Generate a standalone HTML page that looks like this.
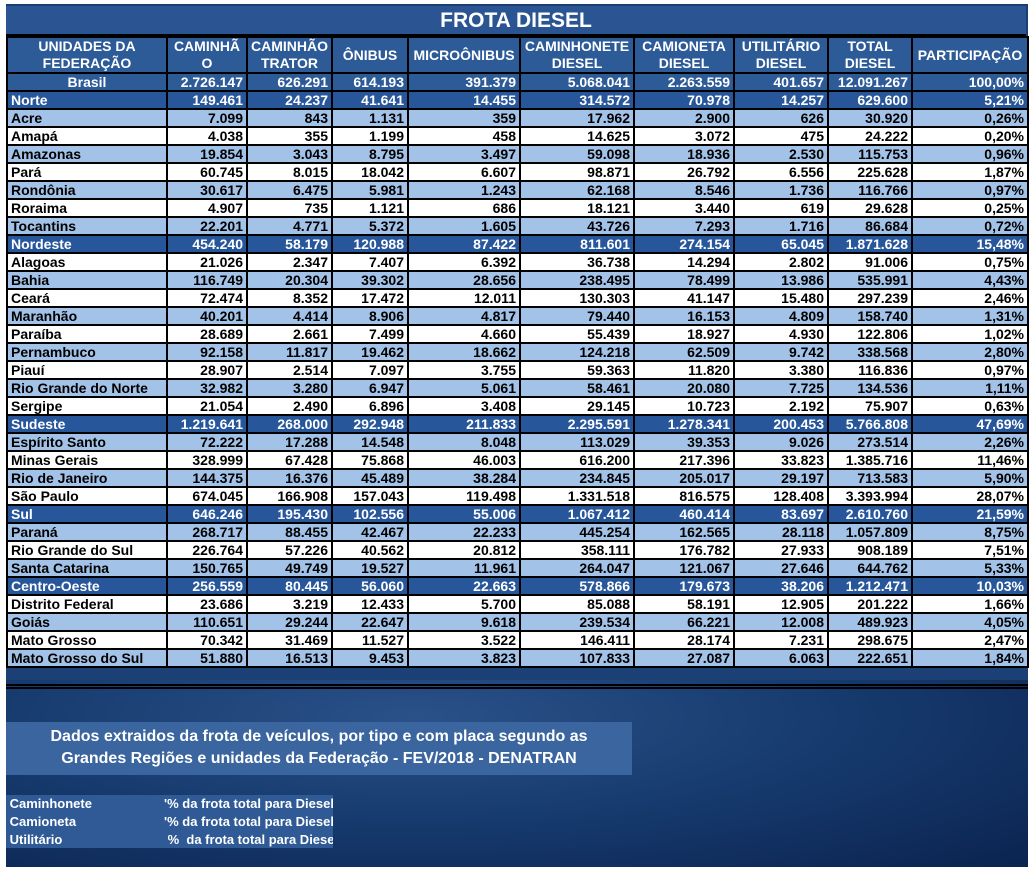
<!DOCTYPE html>
<html><head><meta charset="utf-8"><style>
body{margin:0;width:1033px;height:872px;background:#fff;position:relative;overflow:hidden;font-family:"Liberation Sans",Arial,sans-serif;font-weight:bold}
#bg{position:absolute;left:6px;top:4px;width:1022px;height:863px;background:linear-gradient(180deg,#1a3d72 0%,#1d4379 75%,#0f2a55 100%)}
#bg2{position:absolute;left:6px;top:680px;width:1022px;height:187px;background:radial-gradient(ellipse at 40% 20%,#2a5189 0%,#163a6d 50%,#0b2350 100%)}
#title{position:absolute;left:6px;top:6px;width:1020px;height:28px;background:#2a5592;color:#fff;font-size:21px;text-align:center;line-height:30px;border-bottom:2px solid #000}
table{position:absolute;left:6px;top:36px;border-collapse:collapse;table-layout:fixed}
td{border:2px solid #000;padding:0 3px;height:16px;font-size:14px;line-height:16px;text-align:right;white-space:nowrap;overflow:hidden;color:#000}
td:first-child{text-align:left}
tr.h td{background:#2d5b98;color:#fff;text-align:center;height:34px;line-height:17px;font-size:14px}
tr.b td{background:#2d5b98;color:#fff}
tr.b td:first-child{text-align:center}
tr.r td{background:#27569a;color:#fff}
tr.l td{background:#a3c2e8}
tr.w td{background:#fff}
#dl{position:absolute;left:6px;top:684px;width:1022px;height:1px;border-top:2px solid #000;border-bottom:2px solid #000}
#src{position:absolute;left:6px;top:722px;width:626px;height:53px;background:#3a659f;color:#fff;font-size:16px;text-align:center;line-height:22px;padding-top:4px;box-sizing:border-box}
#leg{position:absolute;left:6px;top:795px;width:327px;height:53px;background:#2f5a95;color:#fff;font-size:13px;line-height:18px}
#leg div{position:relative;height:18px}
#leg span{position:absolute;left:158px;top:0;white-space:nowrap;overflow:hidden;width:169px}
</style></head><body>
<div id="bg"></div><div id="bg2"></div>
<div id="title">FROTA DIESEL</div>
<table>
<colgroup><col style="width:160px"><col style="width:80px"><col style="width:84px"><col style="width:76px"><col style="width:112px"><col style="width:114px"><col style="width:100px"><col style="width:94px"><col style="width:84px"><col style="width:116px"></colgroup>
<tr class="h"><td style="text-align:center">UNIDADES DA<br>FEDERAÇÃO</td><td>CAMINHÃ<br>O</td><td>CAMINHÃO<br>TRATOR</td><td>ÔNIBUS</td><td>MICROÔNIBUS</td><td>CAMINHONETE<br>DIESEL</td><td>CAMIONETA<br>DIESEL</td><td>UTILITÁRIO<br>DIESEL</td><td>TOTAL<br>DIESEL</td><td>PARTICIPAÇÃO</td></tr>
<tr class="b"><td>Brasil</td><td>2.726.147</td><td>626.291</td><td>614.193</td><td>391.379</td><td>5.068.041</td><td>2.263.559</td><td>401.657</td><td>12.091.267</td><td>100,00%</td></tr>
<tr class="r"><td>Norte</td><td>149.461</td><td>24.237</td><td>41.641</td><td>14.455</td><td>314.572</td><td>70.978</td><td>14.257</td><td>629.600</td><td>5,21%</td></tr>
<tr class="l"><td>Acre</td><td>7.099</td><td>843</td><td>1.131</td><td>359</td><td>17.962</td><td>2.900</td><td>626</td><td>30.920</td><td>0,26%</td></tr>
<tr class="w"><td>Amapá</td><td>4.038</td><td>355</td><td>1.199</td><td>458</td><td>14.625</td><td>3.072</td><td>475</td><td>24.222</td><td>0,20%</td></tr>
<tr class="l"><td>Amazonas</td><td>19.854</td><td>3.043</td><td>8.795</td><td>3.497</td><td>59.098</td><td>18.936</td><td>2.530</td><td>115.753</td><td>0,96%</td></tr>
<tr class="w"><td>Pará</td><td>60.745</td><td>8.015</td><td>18.042</td><td>6.607</td><td>98.871</td><td>26.792</td><td>6.556</td><td>225.628</td><td>1,87%</td></tr>
<tr class="l"><td>Rondônia</td><td>30.617</td><td>6.475</td><td>5.981</td><td>1.243</td><td>62.168</td><td>8.546</td><td>1.736</td><td>116.766</td><td>0,97%</td></tr>
<tr class="w"><td>Roraima</td><td>4.907</td><td>735</td><td>1.121</td><td>686</td><td>18.121</td><td>3.440</td><td>619</td><td>29.628</td><td>0,25%</td></tr>
<tr class="l"><td>Tocantins</td><td>22.201</td><td>4.771</td><td>5.372</td><td>1.605</td><td>43.726</td><td>7.293</td><td>1.716</td><td>86.684</td><td>0,72%</td></tr>
<tr class="r"><td>Nordeste</td><td>454.240</td><td>58.179</td><td>120.988</td><td>87.422</td><td>811.601</td><td>274.154</td><td>65.045</td><td>1.871.628</td><td>15,48%</td></tr>
<tr class="w"><td>Alagoas</td><td>21.026</td><td>2.347</td><td>7.407</td><td>6.392</td><td>36.738</td><td>14.294</td><td>2.802</td><td>91.006</td><td>0,75%</td></tr>
<tr class="l"><td>Bahia</td><td>116.749</td><td>20.304</td><td>39.302</td><td>28.656</td><td>238.495</td><td>78.499</td><td>13.986</td><td>535.991</td><td>4,43%</td></tr>
<tr class="w"><td>Ceará</td><td>72.474</td><td>8.352</td><td>17.472</td><td>12.011</td><td>130.303</td><td>41.147</td><td>15.480</td><td>297.239</td><td>2,46%</td></tr>
<tr class="l"><td>Maranhão</td><td>40.201</td><td>4.414</td><td>8.906</td><td>4.817</td><td>79.440</td><td>16.153</td><td>4.809</td><td>158.740</td><td>1,31%</td></tr>
<tr class="w"><td>Paraíba</td><td>28.689</td><td>2.661</td><td>7.499</td><td>4.660</td><td>55.439</td><td>18.927</td><td>4.930</td><td>122.806</td><td>1,02%</td></tr>
<tr class="l"><td>Pernambuco</td><td>92.158</td><td>11.817</td><td>19.462</td><td>18.662</td><td>124.218</td><td>62.509</td><td>9.742</td><td>338.568</td><td>2,80%</td></tr>
<tr class="w"><td>Piauí</td><td>28.907</td><td>2.514</td><td>7.097</td><td>3.755</td><td>59.363</td><td>11.820</td><td>3.380</td><td>116.836</td><td>0,97%</td></tr>
<tr class="l"><td>Rio Grande do Norte</td><td>32.982</td><td>3.280</td><td>6.947</td><td>5.061</td><td>58.461</td><td>20.080</td><td>7.725</td><td>134.536</td><td>1,11%</td></tr>
<tr class="w"><td>Sergipe</td><td>21.054</td><td>2.490</td><td>6.896</td><td>3.408</td><td>29.145</td><td>10.723</td><td>2.192</td><td>75.907</td><td>0,63%</td></tr>
<tr class="r"><td>Sudeste</td><td>1.219.641</td><td>268.000</td><td>292.948</td><td>211.833</td><td>2.295.591</td><td>1.278.341</td><td>200.453</td><td>5.766.808</td><td>47,69%</td></tr>
<tr class="l"><td>Espírito Santo</td><td>72.222</td><td>17.288</td><td>14.548</td><td>8.048</td><td>113.029</td><td>39.353</td><td>9.026</td><td>273.514</td><td>2,26%</td></tr>
<tr class="w"><td>Minas Gerais</td><td>328.999</td><td>67.428</td><td>75.868</td><td>46.003</td><td>616.200</td><td>217.396</td><td>33.823</td><td>1.385.716</td><td>11,46%</td></tr>
<tr class="l"><td>Rio de Janeiro</td><td>144.375</td><td>16.376</td><td>45.489</td><td>38.284</td><td>234.845</td><td>205.017</td><td>29.197</td><td>713.583</td><td>5,90%</td></tr>
<tr class="w"><td>São Paulo</td><td>674.045</td><td>166.908</td><td>157.043</td><td>119.498</td><td>1.331.518</td><td>816.575</td><td>128.408</td><td>3.393.994</td><td>28,07%</td></tr>
<tr class="r"><td>Sul</td><td>646.246</td><td>195.430</td><td>102.556</td><td>55.006</td><td>1.067.412</td><td>460.414</td><td>83.697</td><td>2.610.760</td><td>21,59%</td></tr>
<tr class="l"><td>Paraná</td><td>268.717</td><td>88.455</td><td>42.467</td><td>22.233</td><td>445.254</td><td>162.565</td><td>28.118</td><td>1.057.809</td><td>8,75%</td></tr>
<tr class="w"><td>Rio Grande do Sul</td><td>226.764</td><td>57.226</td><td>40.562</td><td>20.812</td><td>358.111</td><td>176.782</td><td>27.933</td><td>908.189</td><td>7,51%</td></tr>
<tr class="l"><td>Santa Catarina</td><td>150.765</td><td>49.749</td><td>19.527</td><td>11.961</td><td>264.047</td><td>121.067</td><td>27.646</td><td>644.762</td><td>5,33%</td></tr>
<tr class="r"><td>Centro-Oeste</td><td>256.559</td><td>80.445</td><td>56.060</td><td>22.663</td><td>578.866</td><td>179.673</td><td>38.206</td><td>1.212.471</td><td>10,03%</td></tr>
<tr class="w"><td>Distrito Federal</td><td>23.686</td><td>3.219</td><td>12.433</td><td>5.700</td><td>85.088</td><td>58.191</td><td>12.905</td><td>201.222</td><td>1,66%</td></tr>
<tr class="l"><td>Goiás</td><td>110.651</td><td>29.244</td><td>22.647</td><td>9.618</td><td>239.534</td><td>66.221</td><td>12.008</td><td>489.923</td><td>4,05%</td></tr>
<tr class="w"><td>Mato Grosso</td><td>70.342</td><td>31.469</td><td>11.527</td><td>3.522</td><td>146.411</td><td>28.174</td><td>7.231</td><td>298.675</td><td>2,47%</td></tr>
<tr class="l"><td>Mato Grosso do Sul</td><td>51.880</td><td>16.513</td><td>9.453</td><td>3.823</td><td>107.833</td><td>27.087</td><td>6.063</td><td>222.651</td><td>1,84%</td></tr>
</table>
<div id="dl"></div>
<div id="src">Dados extraidos da frota de veículos, por tipo e com placa segundo as<br>Grandes Regiões e unidades da Federação - FEV/2018 - DENATRAN</div>
<div id="leg">
<div>&nbsp;Caminhonete<span>'% da frota total para Diesel</span></div>
<div>&nbsp;Camioneta<span>'% da frota total para Diesel</span></div>
<div>&nbsp;Utilitário<span>&nbsp;%&nbsp; da frota total para Diesel</span></div>
</div>
</body></html>
